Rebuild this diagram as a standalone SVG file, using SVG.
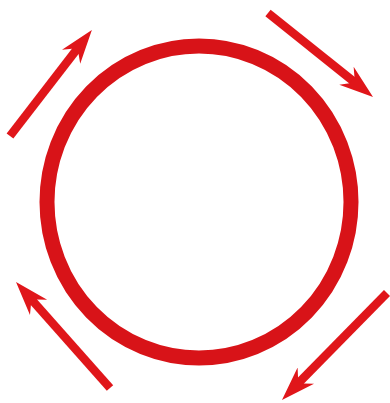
<svg xmlns="http://www.w3.org/2000/svg" width="390" height="403" viewBox="0 0 390 403">
  <style>
    .ring { fill: none; stroke: #d81318; stroke-width: 15; }
    .arrow { fill: none; stroke: #e0161a; stroke-width: 8.5; stroke-linecap: butt; marker-end: url(#head); }
  </style>
  <defs>
    <marker id="head" markerUnits="userSpaceOnUse" markerWidth="40" markerHeight="30" viewBox="0 -15 40 30" refX="9" refY="0" orient="auto">
      <path d="M34,0 L0,11.5 L7,4 L7,-4 L0,-11.5 Z" fill="#e0161a"/>
    </marker>
  </defs>
  <rect x="0" y="0" width="390" height="403" fill="#ffffff"/>
  <g id="circle">
    <ellipse class="ring" cx="199" cy="202" rx="152" ry="156"/>
  </g>
  <g id="connectors">
    <line class="arrow" x1="10" y1="136" x2="76.6" y2="49.7"/>
    <line class="arrow" x1="268" y1="13" x2="353.5" y2="81.4"/>
    <line class="arrow" x1="387" y1="293" x2="299.5" y2="382.1"/>
    <line class="arrow" x1="110" y1="388" x2="32.6" y2="300.7"/>
  </g>
</svg>
